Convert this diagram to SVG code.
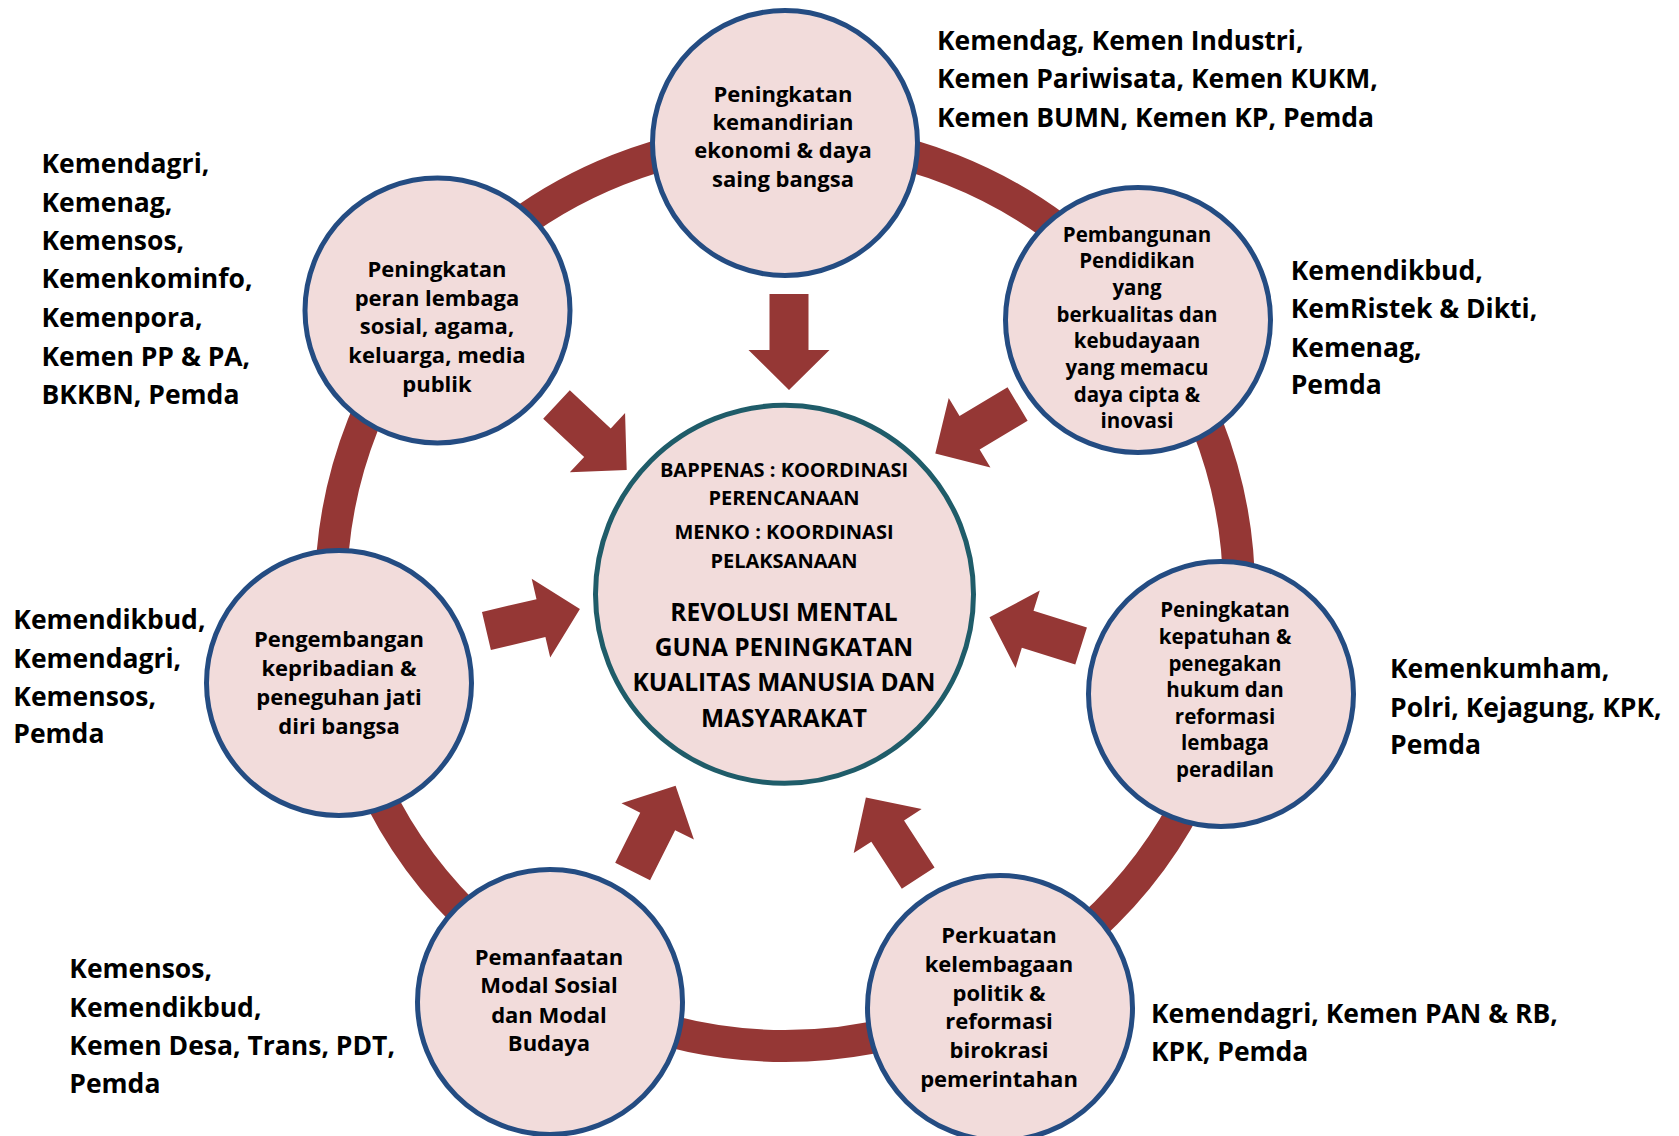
<svg xmlns="http://www.w3.org/2000/svg" xmlns:xlink="http://www.w3.org/1999/xlink" width="1679" height="1136" viewBox="0 0 1679 1136">
<defs>
<style>
.node{fill:#F2DCDB;stroke:#244C82;stroke-width:5}
.core{fill:#F2DCDB;stroke:#1F5C69;stroke-width:5}
.ring{fill:none;stroke:#953735;stroke-width:32}
.arrow{fill:#953735}
text{font-family:"Open Sans","Noto Sans","Liberation Sans",sans-serif;font-weight:700;fill:#000}
.nt{font-size:22px;text-anchor:middle}
.nts{font-size:20.5px;text-anchor:middle}
.lbl{font-size:26.5px}
.cs{font-size:20px;text-anchor:middle}
.cb{font-size:24.5px;text-anchor:middle}
</style>
<path id="arr" d="M-96,-19.5 H-40 V-40.5 L0,0 L-40,40.5 V19.5 H-96 Z"/>
</defs>
<rect width="1679" height="1136" fill="#fff"/>
<g id="connectors">
<circle class="ring" cx="785" cy="592" r="454"/>
<use xlink:href="#arr" class="arrow" transform="translate(789,390) rotate(90)"/>
<use xlink:href="#arr" class="arrow" transform="translate(626.7,470) rotate(43)"/>
<use xlink:href="#arr" class="arrow" transform="translate(935.3,453.4) rotate(149)"/>
<use xlink:href="#arr" class="arrow" transform="translate(579.9,609) rotate(-13.2)"/>
<use xlink:href="#arr" class="arrow" transform="translate(989.5,617.3) rotate(197.4)"/>
<use xlink:href="#arr" class="arrow" transform="translate(675.6,785.7) rotate(-63.4)"/>
<use xlink:href="#arr" class="arrow" transform="translate(865.9,797.5) rotate(-123)"/>
</g>
<g id="center">
<circle class="core" cx="784.5" cy="594.3" r="189"/>
<text class="cs"><tspan x="784" y="476.7">BAPPENAS : KOORDINASI</tspan><tspan x="784" y="505">PERENCANAAN</tspan><tspan x="784" y="539.3">MENKO : KOORDINASI</tspan><tspan x="784" y="568.3">PELAKSANAAN</tspan></text>
<text class="cb"><tspan x="784" y="620.7">REVOLUSI MENTAL</tspan><tspan x="784" y="656">GUNA PENINGKATAN</tspan><tspan x="784" y="690.7">KUALITAS MANUSIA DAN</tspan><tspan x="784" y="726.7">MASYARAKAT</tspan></text>
</g>
<g id="node-ekonomi">
<circle class="node" cx="785" cy="143" r="132.5"/>
<text class="nt"><tspan x="783" y="101.7">Peningkatan</tspan><tspan x="783" y="130">kemandirian</tspan><tspan x="783" y="158.3">ekonomi &amp; daya</tspan><tspan x="783" y="186.7">saing bangsa</tspan></text>
<text class="lbl"><tspan x="937" y="50">Kemendag, Kemen Industri,</tspan><tspan x="937" y="88.3">Kemen Pariwisata, Kemen KUKM,</tspan><tspan x="937" y="126.7">Kemen BUMN, Kemen KP, Pemda</tspan></text>
</g>
<g id="node-pendidikan">
<circle class="node" cx="1138" cy="320" r="132.5"/>
<text class="nts"><tspan x="1137" y="241.7">Pembangunan</tspan><tspan x="1137" y="268.3">Pendidikan</tspan><tspan x="1137" y="295">yang</tspan><tspan x="1137" y="321.7">berkualitas dan</tspan><tspan x="1137" y="348.3">kebudayaan</tspan><tspan x="1137" y="375">yang memacu</tspan><tspan x="1137" y="401.7">daya cipta &amp;</tspan><tspan x="1137" y="428.3">inovasi</tspan></text>
<text class="lbl"><tspan x="1290.7" y="280">Kemendikbud,</tspan><tspan x="1290.7" y="318.3">KemRistek &amp; Dikti,</tspan><tspan x="1290.7" y="356.7">Kemenag,</tspan><tspan x="1290.7" y="394.3">Pemda</tspan></text>
</g>
<g id="node-hukum">
<circle class="node" cx="1221" cy="694" r="132.5"/>
<text class="nts"><tspan x="1225" y="617.3">Peningkatan</tspan><tspan x="1225" y="644">kepatuhan &amp;</tspan><tspan x="1225" y="670.5">penegakan</tspan><tspan x="1225" y="697">hukum dan</tspan><tspan x="1225" y="723.5">reformasi</tspan><tspan x="1225" y="750">lembaga</tspan><tspan x="1225" y="777.3">peradilan</tspan></text>
<text class="lbl"><tspan x="1390" y="678.3">Kemenkumham,</tspan><tspan x="1390" y="716.7">Polri, Kejagung, KPK,</tspan><tspan x="1390" y="754">Pemda</tspan></text>
</g>
<g id="node-politik">
<circle class="node" cx="1000" cy="1008" r="132.5"/>
<text class="nt"><tspan x="999" y="943.3">Perkuatan</tspan><tspan x="999" y="971.7">kelembagaan</tspan><tspan x="999" y="1000.7">politik &amp;</tspan><tspan x="999" y="1029.3">reformasi</tspan><tspan x="999" y="1058.3">birokrasi</tspan><tspan x="999" y="1087.3">pemerintahan</tspan></text>
<text class="lbl"><tspan x="1151" y="1022.7">Kemendagri, Kemen PAN &amp; RB,</tspan><tspan x="1151" y="1060.7">KPK, Pemda</tspan></text>
</g>
<g id="node-modal">
<circle class="node" cx="550" cy="1002" r="132.5"/>
<text class="nt"><tspan x="549" y="965">Pemanfaatan</tspan><tspan x="549" y="993.3">Modal Sosial</tspan><tspan x="549" y="1022.7">dan Modal</tspan><tspan x="549" y="1051">Budaya</tspan></text>
<text class="lbl"><tspan x="69.3" y="978.3">Kemensos,</tspan><tspan x="69.3" y="1016.7">Kemendikbud,</tspan><tspan x="69.3" y="1055">Kemen Desa, Trans, PDT,</tspan><tspan x="69.3" y="1092.7">Pemda</tspan></text>
</g>
<g id="node-kepribadian">
<circle class="node" cx="339" cy="683" r="132.5"/>
<text class="nt"><tspan x="339" y="647.3">Pengembangan</tspan><tspan x="339" y="676">kepribadian &amp;</tspan><tspan x="339" y="705">peneguhan jati</tspan><tspan x="339" y="734">diri bangsa</tspan></text>
<text class="lbl"><tspan x="13.3" y="629.3">Kemendikbud,</tspan><tspan x="13.3" y="667.7">Kemendagri,</tspan><tspan x="13.3" y="706">Kemensos,</tspan><tspan x="13.3" y="743.3">Pemda</tspan></text>
</g>
<g id="node-lembaga">
<circle class="node" cx="437.5" cy="310.5" r="132.5"/>
<text class="nt"><tspan x="437" y="276.7">Peningkatan</tspan><tspan x="437" y="305.7">peran lembaga</tspan><tspan x="437" y="334.3">sosial, agama,</tspan><tspan x="437" y="363.3">keluarga, media</tspan><tspan x="437" y="391.7">publik</tspan></text>
<text class="lbl"><tspan x="41.5" y="173.3">Kemendagri,</tspan><tspan x="41.5" y="211.7">Kemenag,</tspan><tspan x="41.5" y="250">Kemensos,</tspan><tspan x="41.5" y="288.3">Kemenkominfo,</tspan><tspan x="41.5" y="326.7">Kemenpora,</tspan><tspan x="41.5" y="365.7">Kemen PP &amp; PA,</tspan><tspan x="41.5" y="404">BKKBN, Pemda</tspan></text>
</g>
</svg>
